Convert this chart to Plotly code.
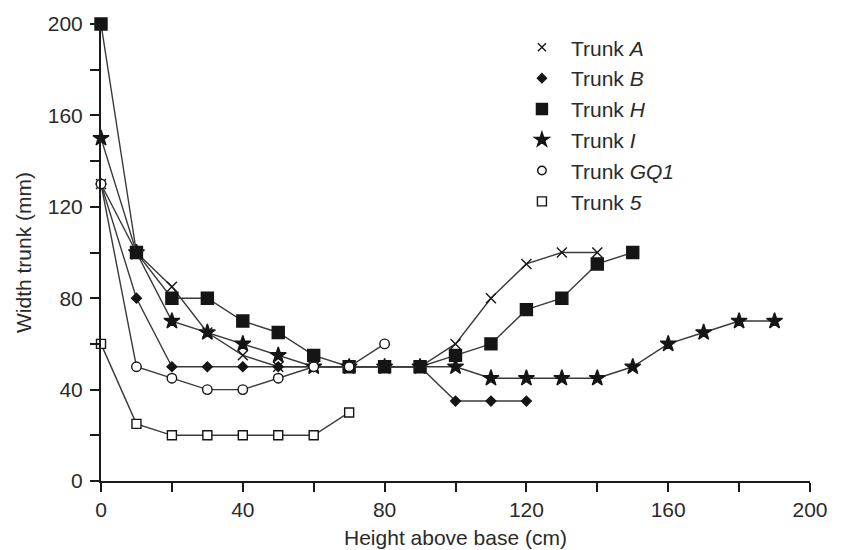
import plotly.graph_objects as go

heights = [0, 10, 20, 30, 40, 50, 60, 70, 80, 90, 100, 110, 120, 130, 140, 150, 160, 170, 180, 190]

trunk_a = [130, 100, 85, 65, 55, 50, 50, 50, 50, 50, 60, 80, 95, 100, 100]
trunk_b = [130, 80, 50, 50, 50, 50, 50, 50, 50, 50, 35, 35, 35]
trunk_h = [200, 100, 80, 80, 70, 65, 55, 50, 50, 50, 55, 60, 75, 80, 95, 100]
trunk_i = [150, 100, 70, 65, 60, 55, 50, 50, 50, 50, 50, 45, 45, 45, 45, 50, 60, 65, 70, 70]
trunk_gq1 = [130, 50, 45, 40, 40, 45, 50, 50, 60]
trunk_5 = [60, 25, 20, 20, 20, 20, 20, 30]

names = ["Trunk <i>A</i>", "Trunk <i>B</i>", "Trunk <i>H</i>", "Trunk <i>I</i>",
         "Trunk <i>GQ1</i>", "Trunk <i>5</i>"]
series = [trunk_a, trunk_b, trunk_h, trunk_i, trunk_gq1, trunk_5]
symbols = ["x-thin", "diamond", "square", "star", "circle", "square"]
fills = ["#151515", "#151515", "#151515", "#151515", "white", "white"]
sizes = [10, 7.5, 12, 12, 9.5, 9]
legend_sizes = [8, 7, 11, 11, 8.5, 9]

LINE = "#3a3a3a"
MK = "#151515"
FONT = "Liberation Sans, Arial"
TXT = "#2a2a2a"

fig = go.Figure()
for name, vals, sym, fc, sz in zip(names, series, symbols, fills, sizes):
    fig.add_trace(go.Scatter(
        x=heights[:len(vals)], y=vals, mode="lines+markers", showlegend=False,
        line=dict(color=LINE, width=1.4),
        marker=dict(symbol=sym, size=sz, color=fc, line=dict(color=MK, width=1.4)),
    ))

for i, (name, sym, fc, sz) in enumerate(zip(names, symbols, fills, legend_sizes)):
    fig.add_trace(go.Scatter(
        x=[None], y=[None], mode="markers", name=name, legendgroup=str(i),
        marker=dict(symbol=sym, size=sz, color=fc, line=dict(color=MK, width=1.4)),
    ))

axis_common = dict(
    showline=True, linecolor="#1a1a1a", linewidth=2, mirror=False,
    ticks="outside", ticklen=9, tickwidth=2, tickcolor="#1a1a1a",
    showgrid=False, zeroline=False, automargin=False,
    tickfont=dict(family=FONT, size=21, color=TXT),
    minor=dict(ticks="outside", ticklen=9, tickwidth=2, tickcolor="#1a1a1a", dtick=20, showgrid=False),
    dtick=40, tick0=0,
)

fig.update_xaxes(range=[0, 200],
                 title=dict(text="Height above base (cm)", font=dict(family=FONT, size=21, color=TXT), standoff=10),
                 **axis_common)
fig.update_yaxes(range=[0, 200], ticklabelstandoff=3,
                 title=dict(text="Width trunk (mm)", font=dict(family=FONT, size=21, color=TXT), standoff=10),
                 **axis_common)

fig.update_layout(
    width=836, height=542,
    margin=dict(l=93, r=34, t=16, b=69),
    plot_bgcolor="white", paper_bgcolor="white",
    font=dict(family=FONT, size=21, color=TXT),
    legend=dict(x=0.581, y=0.993, xanchor="left", yanchor="top",
                bgcolor="rgba(0,0,0,0)", tracegroupgap=0.5,
                font=dict(family=FONT, size=21, color=TXT),
                itemwidth=48),
)

fig.update_traces(cliponaxis=False)

fig.write_html("out.html")
